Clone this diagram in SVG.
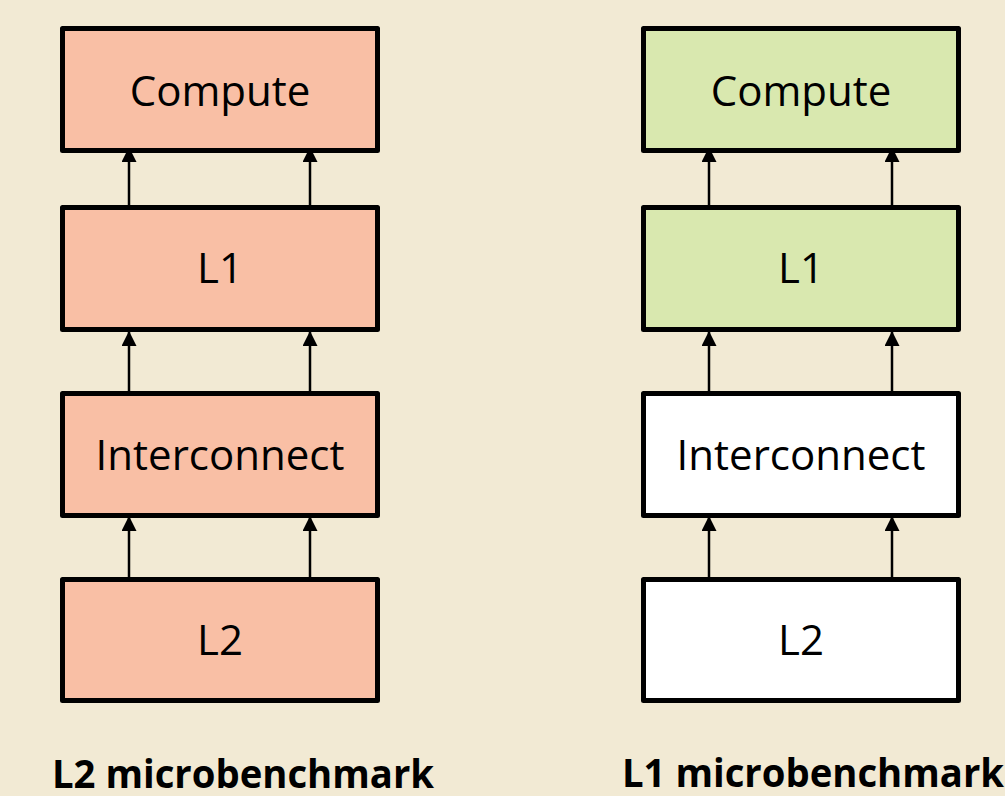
<svg xmlns="http://www.w3.org/2000/svg" width="1005" height="796" viewBox="0 0 1005 796">
<style>
.box{stroke:#000;stroke-width:5;stroke-linejoin:round}
.red{fill:#F9BFA5}
.green{fill:#D9E8AF}
.white{fill:#FFFFFF}
.lbl{font-family:"Open Sans","Noto Sans",sans-serif;font-size:42px;fill:#000;text-anchor:middle}
.cap{font-family:"Open Sans","Noto Sans",sans-serif;font-size:39px;font-weight:bold;fill:#000}
.arr{stroke:#000;stroke-width:2.5;fill:none;marker-end:url(#ah)}
</style>
<defs>
<marker id="ah" viewBox="0 0 10 10" refX="10" refY="5" markerUnits="userSpaceOnUse" markerWidth="15" markerHeight="15" orient="auto">
<path d="M0,0 L10,5 L0,10 Z" fill="#000"/>
</marker>
</defs>
<rect x="0" y="0" width="1005" height="796" fill="#F2EAD4"/>
<g id="connectors">
<line class="arr" x1="129" y1="207" x2="129" y2="147"/>
<line class="arr" x1="310" y1="207" x2="310" y2="147"/>
<line class="arr" x1="129" y1="393" x2="129" y2="331"/>
<line class="arr" x1="310" y1="393" x2="310" y2="331"/>
<line class="arr" x1="129" y1="578" x2="129" y2="516"/>
<line class="arr" x1="310" y1="578" x2="310" y2="516"/>
<line class="arr" x1="709" y1="207" x2="709" y2="147"/>
<line class="arr" x1="892" y1="207" x2="892" y2="147"/>
<line class="arr" x1="709" y1="393" x2="709" y2="331"/>
<line class="arr" x1="892" y1="393" x2="892" y2="331"/>
<line class="arr" x1="709" y1="578" x2="709" y2="516"/>
<line class="arr" x1="892" y1="578" x2="892" y2="516"/>
</g>
<g id="l2-compute"><rect class="box red" x="62.5" y="28.5" width="315" height="122"/><text class="lbl" x="220" y="106">Compute</text></g>
<g id="l2-l1"><rect class="box red" x="62.5" y="207.5" width="315" height="122"/><text class="lbl" x="220" y="283">L1</text></g>
<g id="l2-interconnect"><rect class="box red" x="62.5" y="393.5" width="315" height="122"/><text class="lbl" x="220" y="470">Interconnect</text></g>
<g id="l2-l2"><rect class="box red" x="62.5" y="579.5" width="315" height="121"/><text class="lbl" x="220" y="655">L2</text></g>
<g id="l1-compute"><rect class="box green" x="643.5" y="28.5" width="315" height="122"/><text class="lbl" x="801" y="106">Compute</text></g>
<g id="l1-l1"><rect class="box green" x="643.5" y="207.5" width="315" height="122"/><text class="lbl" x="801" y="283">L1</text></g>
<g id="l1-interconnect"><rect class="box white" x="643.5" y="393.5" width="315" height="122"/><text class="lbl" x="801" y="470">Interconnect</text></g>
<g id="l1-l2"><rect class="box white" x="643.5" y="579.5" width="315" height="121"/><text class="lbl" x="801" y="655">L2</text></g>
<g id="captions">
<text class="cap" x="52" y="788" textLength="382" lengthAdjust="spacingAndGlyphs">L2 microbenchmark</text>
<text class="cap" x="622" y="787" textLength="382" lengthAdjust="spacingAndGlyphs">L1 microbenchmark</text>
</g>
</svg>
